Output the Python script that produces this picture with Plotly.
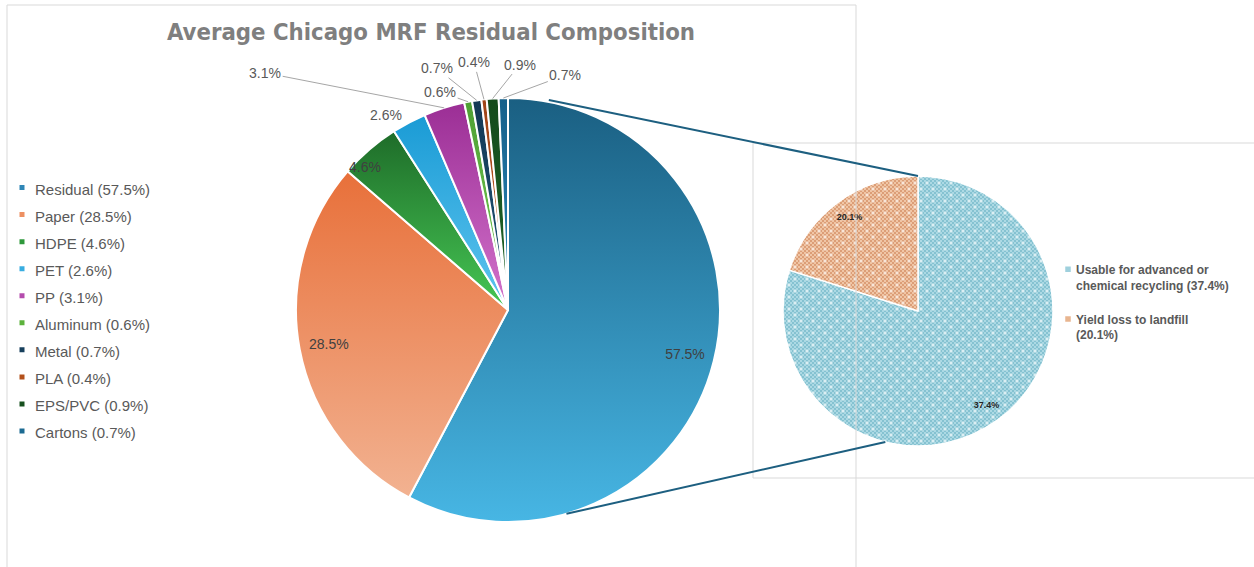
import json
import math
import plotly.graph_objects as go

# ---------------- data ----------------
categories = ["Residual", "Paper", "HDPE", "PET", "PP", "Aluminum", "Metal", "PLA", "EPS/PVC", "Cartons"]
shares = [57.5, 28.5, 4.6, 2.6, 3.1, 0.6, 0.7, 0.4, 0.9, 0.7]

sub_categories = ["Usable for advanced or<br>chemical recycling", "Yield loss to landfill<br>"]
sub_label_pct = [37.4, 20.1]          # percentages printed on the chart
sub_drawn_share = [79.9, 20.1]        # share of the secondary circle as drawn

# ---------------- styles ----------------
slice_colors = ["#2f86b6", "#ed9062", "#2e983b", "#38ade0", "#b44cad", "#5cb23c",
                "#173f5c", "#b3501b", "#17501f", "#1b6a92"]
# vertical gradient (top, bottom) for each slice
slice_gradients = [["#1a5f82", "#47b6e4"], ["#e8703a", "#f2b291"], ["#1e6c29", "#46c754"],
                   ["#1a9bd5", "#5ec5ef"], ["#9b2e95", "#d373cc"], ["#4ea033", "#77cc55"],
                   ["#133955", "#225679"], ["#9e4418", "#c95d22"], ["#144a1b", "#21672a"],
                   ["#16608a", "#2b8abb"]]
sub_colors = ["#9fd0dd", "#e8b58f"]
# checker pattern colours (dark, light) for the secondary pie
sub_patterns = [["#85c2d1", "#acd9e4"], ["#dc9e77", "#f0c6a6"]]

# label placement for labels placed by hand-tuned offsets from the slice rim (px)
rim_label_offsets = {"HDPE": (-4, 17, False, "#404040"), "PET": (-23, -8, False, "#595959"),
                     "PP": (-179, -35, True, "#595959"), "Aluminum": (-28, -10, True, "#595959"),
                     "Metal": (-40, -32, True, "#595959"), "PLA": (-10, -37, True, "#595959"),
                     "EPS/PVC": (27, -34, True, "#595959"), "Cartons": (62, -23, True, "#595959")}

W, H = 1254, 567

def px_x(x):
    return x / W

def px_y(y):
    return 1 - y / H

# geometry of the two pies (pixels)
MAIN_C, MAIN_R = (508, 310), 212
SUB_C, SUB_R = (918, 311), 135

def dom(c, r):
    return dict(x=[px_x(c[0] - r), px_x(c[0] + r)], y=[px_y(c[1] + r), px_y(c[1] - r)])

def on_circle(c, r, deg):
    a = math.radians(deg)
    return c[0] + r * math.sin(a), c[1] - r * math.cos(a)

main_labels = [f'<span style="font-size:15px">{c} ({v:.1f}%)</span>' for c, v in zip(categories, shares)]
sub_labels = [sub_categories[0] + f" ({sub_label_pct[0]:.1f}%)<br> ",
              sub_categories[1] + f"({sub_label_pct[1]:.1f}%)"]

fig = go.Figure()

# main pie (fills)
fig.add_trace(go.Pie(
    labels=main_labels, values=shares, sort=False, direction="clockwise", rotation=0,
    domain=dom(MAIN_C, MAIN_R),
    marker=dict(colors=slice_colors, line=dict(color="white", width=2)),
    textinfo="none", legend="legend", hoverinfo="value",
))

# main pie inside labels for the two big slices (transparent ring so labels sit near the rim)
inside_text = [f"{v:.1f}%" if c not in rim_label_offsets else "" for c, v in zip(categories, shares)]
fig.add_trace(go.Pie(
    labels=main_labels, values=shares, sort=False, direction="clockwise", rotation=0,
    domain=dom(MAIN_C, MAIN_R), hole=0.72,
    marker=dict(colors=["rgba(0,0,0,0)"] * len(shares), line=dict(width=0)),
    text=inside_text, texttemplate="%{text}", textposition="inside",
    insidetextorientation="horizontal",
    insidetextfont=dict(family="Liberation Sans, Arial, sans-serif", size=14, color="#404040"),
    showlegend=False, hoverinfo="skip",
))

# secondary pie
fig.add_trace(go.Pie(
    labels=sub_labels, values=sub_drawn_share, sort=False, direction="clockwise", rotation=0,
    domain=dom(SUB_C, SUB_R),
    marker=dict(colors=sub_colors, line=dict(color="white", width=1.5)),
    textinfo="none", legend="legend2", hoverinfo="label",
))
fig.add_trace(go.Pie(
    labels=sub_labels, values=sub_drawn_share, sort=False, direction="clockwise", rotation=0,
    domain=dom(SUB_C, SUB_R), hole=0.72,
    marker=dict(colors=["rgba(0,0,0,0)"] * 2, line=dict(width=0)),
    text=[f"{v:.1f}%" for v in sub_label_pct], texttemplate="%{text}", textposition="inside",
    insidetextorientation="horizontal",
    insidetextfont=dict(family="Liberation Sans, Arial, sans-serif", size=9, color="#262626", weight="bold"),
    showlegend=False, hoverinfo="skip",
))

# labels for the thin slices, anchored on the rim at each slice's mid-angle
total = sum(shares)
annotations = []
cum = 0.0
for cat, v in zip(categories, shares):
    mid = (cum + v / 2) / total * 360
    cum += v
    if cat not in rim_label_offsets:
        continue
    ax, ay, arrow, col = rim_label_offsets[cat]
    px, py = on_circle(MAIN_C, MAIN_R, mid)
    font = dict(family="Liberation Sans, Arial, sans-serif", size=14, color=col)
    if arrow:
        annotations.append(dict(x=px_x(px), y=px_y(py), xref="paper", yref="paper",
                                text=f"{v:.1f}%", showarrow=True, ax=ax, ay=ay,
                                arrowhead=0, arrowwidth=1, arrowcolor="#a6a6a6", standoff=0,
                                font=font))
    else:
        annotations.append(dict(x=px_x(px + ax), y=px_y(py + ay), xref="paper", yref="paper",
                                xanchor="center", yanchor="middle",
                                text=f"{v:.1f}%", showarrow=False, font=font))

# connector lines between the pies
p1 = on_circle(MAIN_C, MAIN_R + 2, 11)
p2 = on_circle(SUB_C, SUB_R, 0)
p3 = on_circle(MAIN_C, MAIN_R, 164)
p4 = on_circle(SUB_C, SUB_R, 194)

shapes = [
    dict(type="rect", xref="paper", yref="paper", x0=px_x(7), x1=px_x(856), y0=-0.2, y1=px_y(5),
         line=dict(color="#d9d9d9", width=1), fillcolor="rgba(0,0,0,0)", layer="above"),
    dict(type="rect", xref="paper", yref="paper", x0=px_x(753), x1=1.05, y0=px_y(478), y1=px_y(143),
         line=dict(color="#d9d9d9", width=1), fillcolor="rgba(0,0,0,0)", layer="above"),
    dict(type="line", xref="paper", yref="paper", x0=px_x(p1[0]), y0=px_y(p1[1]), x1=px_x(p2[0]), y1=px_y(p2[1]),
         line=dict(color="#1d5f80", width=2), layer="above"),
    dict(type="line", xref="paper", yref="paper", x0=px_x(p3[0]), y0=px_y(p3[1]), x1=px_x(p4[0]), y1=px_y(p4[1]),
         line=dict(color="#1d5f80", width=2), layer="above"),
]

fig.update_layout(
    width=W, height=H, autosize=False,
    margin=dict(l=0, r=0, t=0, b=0, autoexpand=False),
    paper_bgcolor="white", plot_bgcolor="white",
    title=dict(text="Average Chicago MRF Residual Composition", xref="paper", yref="paper",
               x=px_x(431), xanchor="center", y=px_y(32), yanchor="middle",
               font=dict(family="Liberation Sans Narrow, DejaVu Sans Condensed, Arial Narrow, sans-serif",
                         size=23.7, color="#7f7f7f", weight="bold")),
    legend=dict(x=px_x(-5), y=px_y(169), xanchor="left", yanchor="top",
                font=dict(family="Liberation Sans, Arial, sans-serif", size=18.5, color="#595959"),
                bgcolor="rgba(0,0,0,0)", traceorder="normal"),
    legend2=dict(x=px_x(1036), y=px_y(255), xanchor="left", yanchor="top", valign="top",
                 font=dict(family="Liberation Sans, Arial, sans-serif", size=12, color="#595959", weight="bold"),
                 bgcolor="rgba(0,0,0,0)"),
    shapes=shapes,
    annotations=annotations,
)

# styling pass: per-slice vertical gradients, checker patterns and small legend keys
style_js = """
document.body.style.margin='0px';
document.body.style.overflow='hidden';
(function(){
  var gd = document.getElementById('{plot_id}');
  var NS = 'http://www.w3.org/2000/svg';
  var grads = GRADS;
  var pats = PATS;
  function el(tag, attrs){ var e = document.createElementNS(NS, tag);
    for (var k in attrs) e.setAttribute(k, attrs[k]); return e; }
  function apply(){
    var svg = gd.querySelector('svg.main-svg');
    if (!svg) return;
    var defs = document.getElementById('customDefs');
    if (!defs){
      defs = el('defs', {id: 'customDefs'});
      svg.insertBefore(defs, svg.firstChild);
      grads.forEach(function(g, i){
        var lg = el('linearGradient', {id: 'sliceGrad' + i, x1: 0, y1: 0, x2: 0, y2: 1});
        lg.appendChild(el('stop', {offset: 0, 'stop-color': g[0]}));
        lg.appendChild(el('stop', {offset: 1, 'stop-color': g[1]}));
        defs.appendChild(lg);
      });
      pats.forEach(function(p, i){
        var pt = el('pattern', {id: 'subPat' + i, width: 12, height: 12, patternUnits: 'userSpaceOnUse'});
        pt.appendChild(el('rect', {x: 0, y: 0, width: 12, height: 12, fill: p[0]}));
        for (var x = 0; x < 12; x += 2) for (var y = 0; y < 12; y += 2)
          if (((x + y) / 2) % 2 === 0) pt.appendChild(el('rect', {x: x, y: y, width: 2, height: 2, fill: p[1]}));
        [[3, 3], [9, 9]].forEach(function(c){
          pt.appendChild(el('rect', {x: c[0] - 0.5, y: c[1] - 2, width: 1, height: 4, fill: '#ffffff', 'fill-opacity': 0.7}));
          pt.appendChild(el('rect', {x: c[0] - 2, y: c[1] - 0.5, width: 4, height: 1, fill: '#ffffff', 'fill-opacity': 0.7}));
        });
        defs.appendChild(pt);
      });
    }
    var traces = gd.querySelectorAll('.pielayer .trace');
    if (traces.length < 3) return;
    traces[0].querySelectorAll('path.surface').forEach(function(p, i){
      if (i < grads.length) p.style.fill = 'url(#sliceGrad' + i + ')'; });
    traces[2].querySelectorAll('path.surface').forEach(function(p, i){
      if (i < pats.length) p.style.fill = 'url(#subPat' + i + ')'; });
    gd.querySelectorAll('g.legend path.legendpie').forEach(function(p){
      p.setAttribute('d', 'M3.5,3.5H-3.5V-3.5H3.5Z'); p.style.transform = 'translate(27px,0px)'; });
    gd.querySelectorAll('g.legend2 path.legendpie').forEach(function(p){
      p.setAttribute('d', 'M3.5,3.5H-3.5V-3.5H3.5Z'); p.style.transform = 'translate(32px,0px)'; });
  }
  apply();
  gd.on('plotly_afterplot', apply);
})();
""".replace("GRADS", json.dumps(slice_gradients)).replace("PATS", json.dumps(sub_patterns))

fig.write_html("out.html", post_script=style_js, config={"displayModeBar": False})
